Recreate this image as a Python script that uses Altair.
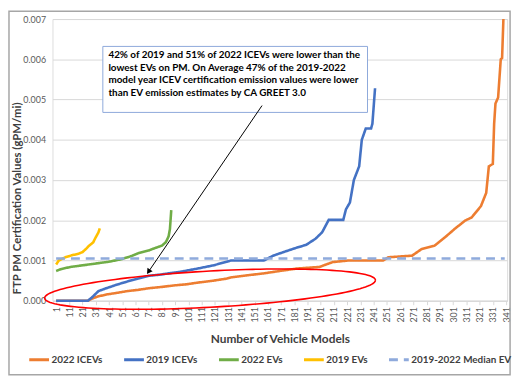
import altair as alt
import pandas as pd
import numpy as np

# ---------------- data ----------------
series = ["2022 ICEVs", "2019 ICEVs", "2022 EVs", "2019 EVs", "2019-2022 Median EV"]

ice22_n = [1, 25, 28, 33, 40, 46, 55, 63, 71, 80, 90, 100, 108, 120, 130, 133, 145, 158, 170,
           183, 200, 205, 210, 222, 248, 252, 270, 277, 287, 295, 302, 310, 315, 322, 326, 328,
           331, 332, 333, 335, 337, 338, 339]
ice22_v = [0, 0, 0.00005, 0.00011, 0.00016, 0.00019, 0.00024, 0.00027, 0.00031, 0.00034, 0.00038,
           0.00041, 0.00045, 0.0005, 0.00055, 0.00058, 0.00063, 0.00068, 0.00074, 0.0008, 0.00084,
           0.0009, 0.00096, 0.001, 0.001, 0.00108, 0.00112, 0.00128, 0.00137, 0.00158, 0.00178,
           0.00199, 0.00207, 0.00235, 0.00268, 0.00334, 0.0034, 0.0044, 0.0049, 0.00505, 0.006,
           0.00603, 0.007]

ice19_n = [1, 25, 28, 33, 38, 46, 55, 63, 71, 80, 86, 95, 108, 120, 130, 133, 158, 165, 173, 181,
           190, 197, 202, 207, 218, 220, 223, 226, 230, 232, 235, 239, 240, 242]
ice19_v = [0, 0, 0.00008, 0.00024, 0.0003, 0.00039, 0.00048, 0.00055, 0.00062, 0.00065, 0.00068,
           0.00072, 0.0008, 0.00088, 0.00097, 0.001, 0.001, 0.00112, 0.00121, 0.0013, 0.00139,
           0.00154, 0.0017, 0.00201, 0.00201, 0.00227, 0.00244, 0.003, 0.00334, 0.004, 0.00428,
           0.00428, 0.0044, 0.00528]

ev22_n = [1, 5, 12, 21, 30, 41, 50, 58, 63, 71, 75, 81, 84, 86, 87, 88]
ev22_v = [0.00074, 0.00079, 0.00084, 0.00088, 0.00092, 0.00097, 0.00103, 0.00111, 0.00118, 0.00125,
          0.0013, 0.00137, 0.00146, 0.0016, 0.00178, 0.00225]

ev19_n = [1, 3, 8, 13, 18, 21, 24, 26, 29, 31, 33, 34]
ev19_v = [0.0009, 0.001, 0.00108, 0.00113, 0.00117, 0.00121, 0.0013, 0.00137, 0.00145, 0.00158,
          0.0017, 0.0018]

median_n = [1, 340]
median_v = [0.00105, 0.00105]

x_ticks = list(range(1, 342, 10))
y_ticks = [0, 0.001, 0.002, 0.003, 0.004, 0.005, 0.006, 0.007]

note_lines = [
    "42% of 2019 and 51% of 2022 ICEVs were lower than the",
    "lowest EVs on PM.  On Average 47% of the 2019-2022",
    "model year ICEV certification emission values were lower",
    "than EV emission estimates by CA GREET 3.0",
]

# ---------------- styles ----------------
colors = ["#ED7D31", "#4472C4", "#70AD47", "#FFC000", "#8FAADC"]
dashes = [[1, 0], [1, 0], [1, 0], [1, 0], [9, 6]]
FONT = "Lato"

rows = []
for name, ns, vs in zip(series,
                        [ice22_n, ice19_n, ev22_n, ev19_n, median_n],
                        [ice22_v, ice19_v, ev22_v, ev19_v, median_v]):
    for i, (n, v) in enumerate(zip(ns, vs)):
        rows.append({"series": name, "n": n, "v": v, "i": i})
df = pd.DataFrame(rows)

xscale = alt.Scale(domain=[-1.76, 341.8], nice=False, zero=False)
yscale = alt.Scale(domain=[0, 0.007], nice=False)

legend = alt.Legend(
    title=None, orient="none", legendX=-25, legendY=333, direction="horizontal", columns=5,
    symbolType="stroke", symbolSize=400, symbolStrokeWidth=3, columnPadding=15,
    labelFont=FONT, labelFontSize=10, labelFontWeight="bold", labelColor="#404040",
    labelOffset=1, padding=0,
)

x_enc = alt.X("n:Q", scale=xscale, axis=alt.Axis(
    values=x_ticks, labelAngle=-90, labelFont=FONT, labelFontSize=9, labelColor="#595959",
    tickColor="#D9D9D9", tickSize=4, domainColor="#D9D9D9", grid=False, labelPadding=2,
    title="Number of Vehicle Models", titleFont=FONT, titleFontSize=12, titleFontWeight="bold",
    titleColor="#404040", titlePadding=12, labelOverlap=False))
y_enc = alt.Y("v:Q", scale=yscale, axis=alt.Axis(
    values=y_ticks, format=".3f", labelFont=FONT, labelFontSize=9, labelColor="#595959",
    tickSize=0, domain=False, gridColor="#D9D9D9", labelPadding=7,
    title="FTP PM Certification Values (gPM/mi)", titleFont=FONT, titleFontSize=11.5,
    titleFontWeight="bold", titleColor="#404040", titleX=-35, titleY=181,
    titleAngle=-90, titleAlign="center", titleBaseline="middle"))

base = alt.Chart(df)

line_layers = []
for name in series:
    line_layers.append(
        base.transform_filter(alt.datum.series == name).mark_line(strokeWidth=2.6).encode(
            x=x_enc, y=y_enc,
            color=alt.Color("series:N", scale=alt.Scale(domain=series, range=colors),
                            legend=legend, sort=series),
            strokeDash=alt.StrokeDash("series:N", scale=alt.Scale(domain=series, range=dashes),
                                      legend=legend, sort=series),
            order="i:Q",
        )
    )

# annotation box
box_df = pd.DataFrame({"n": [36.3], "n2": [236.3], "v": [0.00468], "v2": [0.00632]})
box = alt.Chart(box_df).mark_rect(fill="white", stroke="#8EA9DB", strokeWidth=1).encode(
    x=x_enc, x2="n2:Q", y=y_enc, y2="v2:Q")

# frame around whole chart
frame = alt.Chart(box_df).mark_rect(
    fill=None, stroke="#A6A6A6", strokeWidth=1.5).encode(
    x=alt.value(-44), x2=alt.value(463), y=alt.value(-8), y2=alt.value(360))

text_df = pd.DataFrame({"n": [40.5], "v": [0.00623], "t": ["\n".join(note_lines)]})
note = alt.Chart(text_df).mark_text(
    align="left", baseline="top", lineBreak="\n", lineHeight=12.8, font=FONT, fontSize=10,
    fontWeight="bold", color="#000000").encode(x=x_enc, y=y_enc, text="t:N")

# red ellipse (annotation, defined in data units)
e_cx, e_cy, e_a, e_b, e_k = 117.3, 0.000288, 125.0, 0.00045, 1.77e-6
t = np.linspace(0, 2 * np.pi, 145)
ell_df = pd.DataFrame({
    "n": e_cx + e_a * np.cos(t),
    "v": e_cy + e_b * np.sin(t) + e_k * e_a * np.cos(t),
    "i": np.arange(len(t)),
})
ellipse = alt.Chart(ell_df).mark_line(color="#FF0000", strokeWidth=1.6).encode(
    x=x_enc, y=y_enc, order="i:Q")

# arrow
arr_df = pd.DataFrame({"n": [156.6], "v": [0.00485], "n2": [71.2], "v2": [0.00074]})
arrow = alt.Chart(arr_df).mark_rule(color="black", strokeWidth=1).encode(
    x=x_enc, y=y_enc, x2="n2:Q", y2="v2:Q")
head_df = pd.DataFrame({"n": [71.2], "v": [0.00074]})
head = alt.Chart(head_df).mark_point(shape="triangle", filled=True, color="black", size=40,
                                     angle=214.6, opacity=1).encode(x=x_enc, y=y_enc)

chart = alt.layer(*line_layers, box, frame, ellipse, arrow, head, note).properties(
    width=460, height=285,
    padding={"left": 45, "top": 9, "right": 10, "bottom": 76},
    autosize=alt.AutoSizeParams(type="none"),
).configure_view(stroke=None).configure(background="white")

chart.save("out.html", embed_options={"renderer": "svg", "actions": False})
